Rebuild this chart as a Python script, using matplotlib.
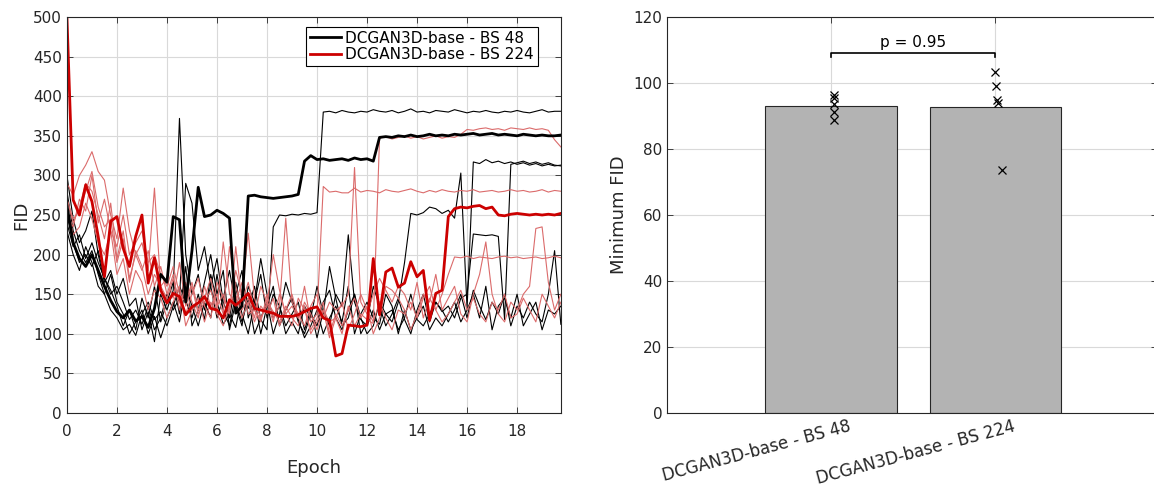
import numpy as np
import matplotlib
matplotlib.use("Agg")
import matplotlib.pyplot as plt
import matplotlib.transforms as mtransforms

# FID per run, sampled every quarter epoch (80 samples, epoch 0 .. 19.75)
n_samples = 80
epochs = np.arange(n_samples) * 0.25

# batch size 48 - highlighted run
bs48_main = [262, 215, 195, 185, 200, 180, 160, 142, 128, 120, 130, 116, 122, 108, 132, 175,
             165, 248, 244, 140, 205, 285, 248, 250, 256, 252, 246, 126, 135, 274, 275, 273,
             272, 271, 272, 273, 274, 276, 318, 325, 320, 321, 319, 320, 321, 319, 322, 320,
             321, 318, 348, 349, 348, 350, 349, 351, 349, 350, 352, 350, 351, 350, 352, 351,
             352, 353, 351, 352, 353, 351, 352, 351, 350, 352, 351, 350, 351, 350, 350, 351]
# batch size 48 - other runs
bs48_run1 = [280, 230, 205, 190, 205, 175, 150, 130, 120, 105, 112, 98, 125, 140, 118, 128,
             110, 135, 160, 142, 120, 150, 118, 175, 140, 112, 125, 108, 150, 132, 160, 118,
             105, 235, 250, 249, 251, 250, 252, 251, 253, 380, 381, 379, 382, 380, 379, 381,
             380, 383, 381, 380, 382, 379, 381, 384, 380, 381, 379, 382, 381, 380, 383, 381,
             379, 381, 380, 382, 380, 379, 381, 380, 382, 380, 379, 381, 383, 380, 381, 381]
bs48_run2 = [250, 215, 190, 200, 185, 205, 170, 150, 160, 140, 118, 130, 112, 135, 105, 120,
             150, 130, 145, 290, 265, 180, 210, 160, 120, 145, 180, 135, 110, 160, 140, 195,
             150, 120, 135, 110, 125, 140, 105, 130, 95, 128, 110, 150, 135, 225, 140, 118,
             110, 130, 105, 125, 115, 140, 190, 252, 250, 253, 260, 258, 252, 256, 246, 303,
             132, 317, 315, 320, 316, 318, 315, 317, 314, 316, 313, 315, 312, 314, 312, 313]
bs48_run3 = [230, 200, 180, 210, 190, 160, 150, 175, 140, 125, 100, 115, 130, 100, 122, 95,
             120, 140, 115, 160, 135, 110, 140, 120, 175, 130, 110, 150, 180, 120, 145, 100,
             135, 160, 110, 130, 145, 115, 100, 125, 110, 140, 155, 120, 105, 130, 150, 100,
             115, 160, 135, 110, 125, 145, 118, 100, 130, 150, 115, 140, 128, 135, 120, 145,
             150, 226, 225, 224, 225, 223, 118, 314, 316, 318, 315, 317, 314, 316, 313, 312]
bs48_run4 = [300, 245, 215, 230, 255, 200, 165, 180, 150, 170, 135, 145, 105, 128, 90, 150,
             130, 155, 372, 200, 150, 175, 130, 160, 195, 140, 120, 165, 125, 100, 140, 175,
             120, 150, 135, 100, 115, 100, 135, 120, 160, 125, 185, 145, 110, 120, 150, 120,
             100, 110, 140, 125, 130, 105, 120, 150, 118, 110, 125, 140, 130, 115, 130, 150,
             120, 155, 135, 118, 140, 125, 150, 110, 135, 120, 140, 125, 115, 150, 205, 112]
bs48_run5 = [240, 210, 225, 195, 215, 190, 170, 155, 135, 110, 130, 105, 145, 120, 160, 115,
             140, 165, 125, 185, 110, 130, 165, 200, 150, 180, 105, 140, 115, 145, 100, 120,
             140, 100, 125, 165, 140, 118, 95, 110, 130, 100, 120, 135, 115, 160, 100, 125,
             140, 120, 112, 150, 135, 100, 130, 105, 120, 135, 105, 120, 110, 125, 140, 115,
             130, 150, 120, 160, 105, 135, 145, 120, 150, 110, 125, 140, 105, 130, 125, 135]

# batch size 224 - highlighted run
bs224_main = [500, 269, 250, 288, 267, 223, 172, 242, 248, 208, 185, 223, 250, 164, 196, 155,
              139, 151, 147, 124, 134, 139, 147, 132, 130, 120, 143, 136, 143, 151, 132, 130,
              128, 126, 122, 122, 122, 124, 128, 132, 134, 120, 117, 72, 75, 111, 110, 109,
              111, 195, 124, 178, 183, 159, 164, 191, 172, 180, 117, 151, 155, 248, 258, 260,
              259, 261, 262, 258, 260, 250, 249, 251, 252, 251, 250, 251, 250, 251, 250, 252]
# batch size 224 - other runs
bs224_run1 = [290, 275, 300, 313, 330, 305, 294, 250, 220, 284, 230, 200, 215, 180, 284, 160,
              170, 145, 190, 135, 160, 125, 140, 155, 130, 216, 150, 140, 165, 125, 130, 118,
              140, 128, 115, 135, 120, 110, 140, 125, 105, 130, 115, 120, 100, 135, 110, 125,
              118, 113, 347, 349, 346, 348, 350, 347, 349, 346, 348, 350, 347, 349, 348, 352,
              358, 357, 359, 360, 358, 359, 357, 360, 359, 358, 360, 358, 359, 357, 345, 336]
bs224_run2 = [270, 240, 260, 290, 280, 250, 220, 265, 195, 230, 170, 200, 180, 205, 160, 185,
              150, 175, 130, 165, 140, 120, 160, 135, 150, 125, 210, 160, 130, 145, 120, 160,
              140, 115, 150, 125, 135, 120, 160, 115, 125, 286, 279, 280, 278, 278, 284, 279,
              281, 280, 278, 282, 280, 279, 281, 283, 280, 278, 281, 279, 282, 280, 279, 281,
              280, 282, 279, 280, 281, 279, 280, 282, 280, 281, 279, 280, 282, 279, 281, 280]
bs224_run3 = [250, 235, 270, 255, 300, 240, 270, 230, 210, 250, 200, 215, 230, 190, 200, 175,
              160, 185, 150, 140, 165, 130, 145, 170, 135, 150, 125, 210, 140, 165, 130, 115,
              150, 120, 135, 246, 140, 125, 110, 135, 150, 120, 140, 130, 135, 150, 310, 140,
              125, 150, 170, 155, 140, 160, 150, 130, 165, 120, 145, 130, 150, 175, 197, 196,
              198, 195, 197, 196, 195, 197, 198, 196, 197, 195, 196, 197, 195, 196, 198, 196]
bs224_run4 = [270, 245, 255, 280, 305, 260, 235, 245, 190, 220, 165, 205, 185, 150, 175, 160,
              145, 170, 140, 125, 150, 170, 135, 120, 165, 145, 130, 180, 150, 227, 145, 120,
              135, 200, 155, 125, 110, 145, 130, 105, 120, 140, 100, 125, 110, 130, 145, 120,
              135, 100, 120, 160, 155, 145, 130, 105, 125, 150, 140, 175, 130, 145, 160, 125,
              115, 150, 175, 216, 150, 125, 115, 140, 130, 150, 160, 233, 235, 165, 130, 150]
bs224_run5 = [260, 225, 235, 265, 245, 215, 200, 230, 175, 195, 150, 180, 165, 130, 155, 145,
              120, 140, 160, 110, 130, 145, 115, 140, 125, 110, 135, 150, 120, 140, 115, 135,
              125, 145, 110, 130, 150, 120, 135, 100, 115, 130, 95, 120, 140, 105, 125, 150,
              130, 115, 140, 120, 105, 130, 125, 140, 120, 145, 160, 130, 115, 125, 140, 155,
              130, 145, 125, 115, 140, 130, 150, 120, 125, 145, 130, 115, 150, 135, 120, 140]

# minimum FID per run (right panel)
groups = ["DCGAN3D-base - BS 48", "DCGAN3D-base - BS 224"]
bar_means = [93.0, 92.7]
min_fid_bs48 = [96.5, 95.6, 93.5, 91.3, 88.8]
min_fid_bs224 = [103.2, 99.1, 94.8, 93.8, 73.6]
p_value = 0.95

dark = (0.15, 0.15, 0.15)
red = (0.8, 0.0, 0.0)
thin_red = (0.86, 0.42, 0.42)

plt.rcParams["font.family"] = "DejaVu Sans"
plt.rcParams["font.size"] = 11

fig = plt.figure(figsize=(11.54, 4.87), dpi=100)
ax1 = fig.add_axes([0.058, 0.152, 0.428, 0.813])
ax2 = fig.add_axes([0.578, 0.152, 0.4245, 0.813])


def matlab_style(ax):
    for s in ax.spines.values():
        s.set_color(dark)
        s.set_linewidth(0.8)
    ax.tick_params(direction="in", top=True, right=True, colors=dark,
                   labelcolor=dark, length=4, width=0.6, labelsize=11)
    ax.grid(True, color=(0.85, 0.85, 0.85), linewidth=0.8)
    ax.set_axisbelow(True)


# left panel: FID curves
for run in [bs48_run1, bs48_run2, bs48_run3, bs48_run4, bs48_run5]:
    ax1.plot(epochs, run, color="black", lw=0.8)
for run in [bs224_run1, bs224_run2, bs224_run3, bs224_run4, bs224_run5]:
    ax1.plot(epochs, run, color=thin_red, lw=0.8)
h1, = ax1.plot(epochs, bs48_main, color="black", lw=2, label=groups[0])
h2, = ax1.plot(epochs, bs224_main, color=red, lw=2, label=groups[1])

ax1.set_xlim(0, 19.75)
ax1.set_ylim(0, 500)
ax1.set_xticks(range(0, 20, 2))
ax1.set_yticks(range(0, 501, 50))
ax1.set_xlabel("Epoch", fontsize=13, color=dark, labelpad=14)
ax1.set_ylabel("FID", fontsize=13, color=dark, labelpad=2)
matlab_style(ax1)
ax1.tick_params(axis="x", pad=8)
leg = ax1.legend(handles=[h1, h2], loc="upper right", bbox_to_anchor=(0.953, 0.975),
                 fontsize=11, fancybox=False, edgecolor="black", framealpha=1,
                 borderpad=0.25, handlelength=2.0, handletextpad=0.3,
                 labelspacing=0.1, borderaxespad=0)
leg.get_frame().set_linewidth(0.8)

# right panel: bars with individual runs
xpos = [1, 2]
ax2.bar(xpos, bar_means, width=0.8, color=(0.7, 0.7, 0.7), edgecolor=dark, linewidth=0.8, zorder=2)
off48 = [0.015, 0.02, 0.02, 0.015, 0.015]
off224 = [0.0, 0.005, 0.01, 0.015, 0.04]
ax2.plot([1 + o for o in off48], min_fid_bs48, "x", color="black", ms=6, mew=0.9, zorder=3)
ax2.plot([2 + o for o in off224], min_fid_bs224, "x", color="black", ms=6, mew=0.9, zorder=3)

ax2.plot([1, 1, 2, 2], [107.8, 109, 109, 107.8], color="black", lw=1.2, zorder=3)
ax2.text(1.5, 110, "p = %.2f" % p_value, ha="center", va="bottom", fontsize=11, color="black")

ax2.set_xlim(0, 2.985)
ax2.set_ylim(0, 120)
ax2.set_yticks(range(0, 121, 20))
ax2.set_xticks(xpos)
ax2.set_xticklabels(groups, rotation=15, ha="right", rotation_mode="anchor")
ax2.set_ylabel("Minimum FID", fontsize=13, color=dark)
matlab_style(ax2)
ax2.tick_params(axis="x", pad=3, labelsize=12)
shift = mtransforms.ScaledTranslation(0.17, 0, fig.dpi_scale_trans)
for lbl in ax2.get_xticklabels():
    lbl.set_transform(lbl.get_transform() + shift)

fig.savefig("out.png", dpi=100)
